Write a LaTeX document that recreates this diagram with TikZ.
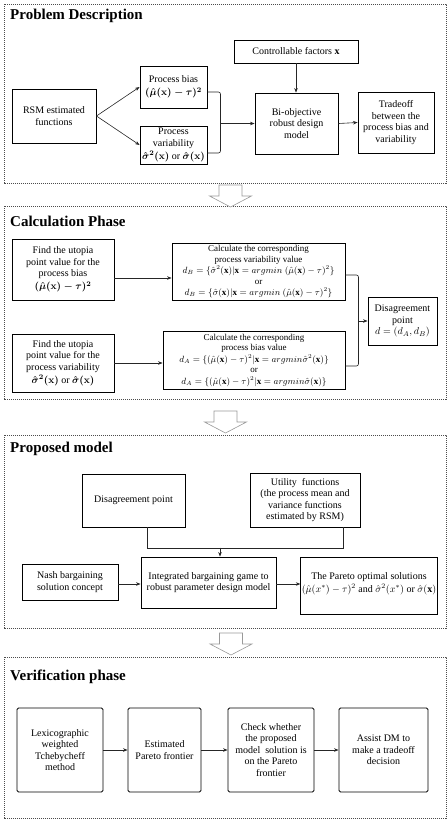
\documentclass[tikz,border=0pt]{standalone}
\usepackage{fontspec}
\setmainfont{Liberation Serif}
\usetikzlibrary{calc,arrows.meta}
\begin{document}
\begin{tikzpicture}[x=1pt,y=-1pt,
  box/.style={draw, line width=0.9pt, align=center, inner sep=1pt,
    font=\fontsize{10}{11.5}\selectfont},
  smallbox/.style={box, font=\fontsize{9}{10.5}\selectfont},
  conn/.style={line width=0.6pt, draw=black!85},
  arr/.style={conn, -{Stealth[length=4.5pt,width=3.5pt]}},
  panel/.style={draw=black!70, line width=0.6pt, dash pattern=on 1.2pt off 0.8pt},
  ptitle/.style={anchor=base west, inner sep=0pt, font=\fontsize{15}{18}\selectfont\bfseries},
  bigarrow/.pic={\draw[draw=black!40, line width=0.6pt, fill=white]
    (-11.5,0) -- (11.5,0) -- (11.5,11) -- (21,11) -- (0,22) -- (-21,11) -- (-11.5,11) -- cycle;}
  ]
\useasboundingbox (0,0) rectangle (447,820);

% ---------- panels ----------
\draw[panel] (4,4) rectangle (446,183);
\draw[panel] (4,206) rectangle (446,399);
\draw[panel] (4,435) rectangle (446,628);
\draw[panel] (4,657) rectangle (446,818);

\node[ptitle] (t1) at (10,19) {Problem Description};
\node[ptitle] (t2) at (10,226) {Calculation Phase};
\node[ptitle] (t3) at (10,452) {Proposed model};
\node[ptitle] (t4) at (10,680) {Verification phase};

\pic at (230.5,185) {bigarrow};
\pic at (225.5,411) {bigarrow};
\pic at (231,633) {bigarrow};

% ---------- panel 1 ----------
\node[box, minimum width=84pt, minimum height=54pt] (rsm) at (54,116) {RSM estimated\\functions};
\node[box, minimum width=67pt, minimum height=42pt] (bias) at (173.5,87) {Process bias\\[1.5pt]{\boldmath$(\hat{\mu}(\mathbf{x})-\tau)^2$}};
\node[box, minimum width=67pt, minimum height=38pt] (var) at (173.5,145) {Process\\variability\\[1.5pt]{\boldmath$\hat{\sigma}^2(\mathbf{x})$} or {\boldmath$\hat{\sigma}(\mathbf{x})$}};
\node[box, minimum width=124pt, minimum height=23pt] (ctrl) at (296,51.5) {Controllable factors $\mathbf{x}$};
\node[box, minimum width=83pt, minimum height=61pt] (bio) at (296.5,123.5) {Bi-objective\\robust design\\model};
\node[box, minimum width=76pt, minimum height=61pt] (trade) at (396,122.5) {Tradeoff\\between the\\process bias and\\variability};

\draw[arr] (rsm.east) -- (bias.west);
\draw[arr] (rsm.east) -- (var.west);
\draw[conn, rounded corners=2pt] ($(bias.east)+(0,5)$) -- ++(13,0) |- ($(var.east)+(0,8)$);
\coordinate (m1) at ($(bias.east)+(13,36.5)$);
\draw[arr] (m1) -- (m1 -| bio.west);
\draw[arr] (ctrl.south) -- (ctrl.south |- bio.north);
\draw[arr] (bio.east) -- (trade.west);

% ---------- panel 2 ----------
\node[box, minimum width=102pt, minimum height=61pt] (ub) at (63,269.5) {Find the utopia\\point value for the\\process bias\\[1.5pt]{\boldmath$(\hat{\mu}(\mathbf{x})-\tau)^2$}};
\node[smallbox, minimum width=173pt, minimum height=57pt] (cv) at (258.5,271.5) {Calculate the corresponding\\process variability value\\[1pt]$d_B=\{\hat{\sigma}^2(\mathbf{x})|\mathbf{x}=argmin\ (\hat{\mu}(\mathbf{x})-\tau)^2\}$\\or\\[1pt]$d_B=\{\hat{\sigma}(\mathbf{x})|\mathbf{x}=argmin\ (\hat{\mu}(\mathbf{x})-\tau)^2\}$};
\node[box, minimum width=102pt, minimum height=58pt] (uv) at (63,363) {Find the utopia\\point value for the\\process variability\\[1.5pt]{\boldmath$\hat{\sigma}^2(\mathbf{x})$} or {\boldmath$\hat{\sigma}(\mathbf{x})$}};
\node[smallbox, minimum width=182pt, minimum height=58pt] (cb) at (254,360) {Calculate the corresponding\\process bias value\\[1pt]$d_A=\{(\hat{\mu}(\mathbf{x})-\tau)^2|\mathbf{x}=argmin\hat{\sigma}^2(\mathbf{x})\}$\\or\\[1pt]$d_A=\{(\hat{\mu}(\mathbf{x})-\tau)^2|\mathbf{x}=argmin\hat{\sigma}(\mathbf{x})\}$};
\node[box, minimum width=69pt, minimum height=48pt] (dp) at (402.5,321) {Disagreement\\point\\$d=(d_A,d_B)$};

\coordinate (a1) at ($(ub.east)+(0,8.5)$);
\draw[arr] (a1) -- (a1 -| cv.west);
\draw[arr] (uv.east) -- (uv.east -| cb.west);
\draw[conn, rounded corners=2pt] ($(cv.east)+(0,3.5)$) -- ++(13,0) |- ($(cb.east)+(0,6)$);
\coordinate (m2) at ($(cv.east)+(13,49.5)$);
\draw[arr] (m2) -- (m2 -| dp.west);

% ---------- panel 3 ----------
\node[box, minimum width=103pt, minimum height=53pt] (dis) at (133.5,500.5) {Disagreement point};
\node[box, minimum width=110pt, minimum height=54pt] (util) at (305,500) {Utility~ functions\\(the process mean and\\variance functions\\estimated by RSM)};
\node[box, minimum width=96pt, minimum height=36pt] (nash) at (70,582) {Nash bargaining\\solution concept};
\node[box, minimum width=135pt, minimum height=51pt] (integ) at (208.5,582.5) {Integrated bargaining game to\\robust parameter design model};
\node[box, minimum width=136pt, minimum height=57pt, text depth=6pt] (pareto) at (369,585.5) {The Pareto optimal solutions\\[1.5pt]$(\hat{\mu}(x^*)-\tau)^2$ and $\hat{\sigma}^2(x^*)$ or $\hat{\sigma}(\mathbf{x})$};

\coordinate (j1) at ($(dis.south)+(13.5,21)$);
\coordinate (j2) at ($(util.south)+(38,21)$);
\coordinate (j3) at ($(integ.north)+(11.5,-9)$);
\draw[conn] ($(dis.south)+(13.5,0)$) -- (j1) -- (j2) -- ($(util.south)+(38,0)$);
\draw[arr] (j3) -- (j3 |- integ.north);
\draw[arr] ($(nash.east)+(0,2)$) -- ($(integ.west)+(0,1.5)$);
\draw[arr] ($(integ.east)+(0,1.5)$) -- ($(pareto.west)+(0,-1.5)$);

% ---------- panel 4 ----------
\tikzset{vbox/.style={box, rounded corners=1.5pt, minimum height=84pt}}
\node[vbox, minimum width=86pt] (lex) at (60,750) {Lexicographic\\weighted\\Tchebycheff\\method};
\node[vbox, minimum width=73pt] (est) at (164.5,750) {Estimated\\Pareto frontier};
\node[vbox, minimum width=86pt] (chk) at (271,750) {Check whether\\the proposed\\model~ solution is\\on the Pareto\\frontier};
\node[vbox, minimum width=89pt] (ast) at (383.5,750) {Assist DM to\\make a tradeoff\\decision};

\draw[arr] (lex.east) -- (est.west);
\draw[arr] (est.east) -- (chk.west);
\draw[arr] (chk.east) -- (ast.west);
\end{tikzpicture}
\end{document}
